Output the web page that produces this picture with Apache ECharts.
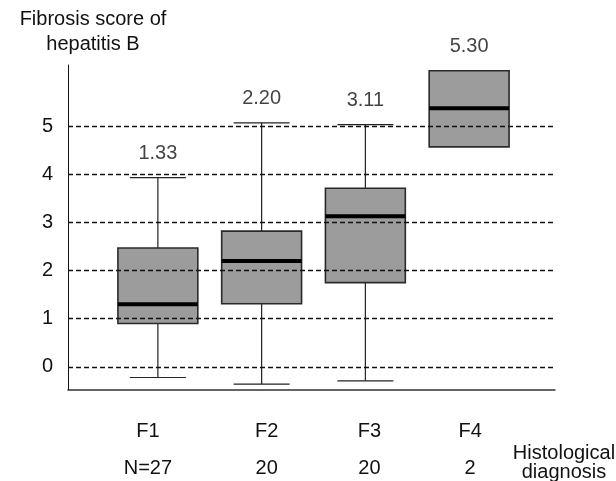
<!DOCTYPE html>
<html>
<head>
<meta charset="utf-8">
<script src="https://cdn.jsdelivr.net/npm/echarts@6/dist/echarts.min.js"></script>
<style>html,body{margin:0;padding:0;background:#fff}#c{width:616px;height:481px}</style>
</head>
<body>
<div id="c"></div>
<script>
var categories = ['F1', 'F2', 'F3', 'F4'];
var counts = ['N=27', '20', '20', '2'];
var medianLabels = ['1.33', '2.20', '3.11', '5.30'];
// [min, Q1, median, Q3, max]
var boxF1 = [-0.22, 0.90, 1.30, 2.47, 3.93];
var boxF2 = [-0.36, 1.31, 2.20, 2.82, 5.07];
var boxF3 = [-0.29, 1.75, 3.13, 3.71, 5.03];
var boxF4 = [4.57, 4.57, 5.37, 6.15, 6.15];
var yTicks = [0, 1, 2, 3, 4, 5];
var yMin = -0.48, yMax = 6.27;

var boxes = [boxF1, boxF2, boxF3, boxF4];
var FONT = 'Liberation Sans';
var FS = 20;

// horizontal nudges of category labels (px), layout only
var labelShift = [-10, 5, 4, 1];
var rich = {};
labelShift.forEach(function (s, i) {
  var pad = s >= 0 ? [0, 0, 0, 2 * s] : [0, -2 * s, 0, 0];
  rich['a' + i] = { fontFamily: FONT, fontSize: FS, color: '#111', lineHeight: 37, padding: pad };
  rich['b' + i] = { fontFamily: FONT, fontSize: FS, color: '#111', lineHeight: 37, padding: pad };
});

var chart = echarts.init(document.getElementById('c'));
chart.setOption({
  backgroundColor: '#fff',
  animation: false,
  textStyle: { fontFamily: FONT },
  title: [
    { text: 'Fibrosis score of\nhepatitis B', left: 88, top: 2, textAlign: 'center',
      textStyle: { fontFamily: FONT, fontSize: FS, fontWeight: 'normal', color: '#111', lineHeight: 25, align: 'center' } },
    { text: 'Histological\ndiagnosis', left: 559, top: 439, textAlign: 'center',
      textStyle: { fontFamily: FONT, fontSize: FS, fontWeight: 'normal', color: '#111', lineHeight: 19, align: 'center' } }
  ],
  grid: [
    { left: 68, right: 61, top: 65, bottom: 91 },
    { left: 106, right: 95, top: 65, bottom: 91 }
  ],
  xAxis: [
    { gridIndex: 0, type: 'value', min: 0, max: 1,
      axisLine: { show: true, onZero: false, lineStyle: { color: '#333', width: 1.5 } },
      axisTick: { show: false }, axisLabel: { show: false }, splitLine: { show: false } },
    { gridIndex: 1, type: 'category', data: categories,
      axisLine: { show: false }, axisTick: { show: false }, splitLine: { show: false },
      axisLabel: {
        margin: 23,
        formatter: function (v, i) { return '{a' + i + '|' + v + '}\n{b' + i + '|' + counts[i] + '}'; },
        rich: rich
      } }
  ],
  yAxis: [
    { gridIndex: 0, type: 'value', min: yMin, max: yMax,
      axisLine: { show: true, onZero: false, lineStyle: { color: '#111', width: 1 } },
      axisTick: { show: false }, splitLine: { show: false },
      axisLabel: { margin: 15, fontFamily: FONT, fontSize: FS, color: '#111',
        formatter: function (v) { return yTicks.indexOf(Math.round(v * 1000) / 1000) >= 0 ? String(v) : ''; } } },
    { gridIndex: 1, type: 'value', min: yMin, max: yMax, show: false,
      axisLine: { show: false }, axisTick: { show: false }, axisLabel: { show: false }, splitLine: { show: false } }
  ],
  series: [
    { type: 'line', xAxisIndex: 0, yAxisIndex: 0, data: [], silent: true,
      markLine: { silent: true, symbol: 'none', label: { show: false },
        lineStyle: { type: [5, 3], color: '#111', width: 1.3 },
        data: yTicks.map(function (t) { return { yAxis: t }; }) } },
    { type: 'custom', xAxisIndex: 1, yAxisIndex: 1,
      data: boxes.map(function (b, i) { return [i].concat(b); }),
      renderItem: function (params, api) {
        var x = api.value(0);
        var band = api.size([1, 0])[0];
        var bw = band * 0.77, cw = band * 0.54;
        var pMin = api.coord([x, api.value(1)]);
        var pQ1 = api.coord([x, api.value(2)]);
        var pMed = api.coord([x, api.value(3)]);
        var pQ3 = api.coord([x, api.value(4)]);
        var pMax = api.coord([x, api.value(5)]);
        var cx = pMed[0];
        var lineS = { stroke: '#222', lineWidth: 1.2 };
        var children = [];
        if (api.value(1) < api.value(2)) {
          children.push({ type: 'line', shape: { x1: cx, y1: pQ1[1], x2: cx, y2: pMin[1] }, style: lineS });
          children.push({ type: 'line', shape: { x1: cx - cw / 2, y1: pMin[1], x2: cx + cw / 2, y2: pMin[1] }, style: lineS });
        }
        if (api.value(5) > api.value(4)) {
          children.push({ type: 'line', shape: { x1: cx, y1: pQ3[1], x2: cx, y2: pMax[1] }, style: lineS });
          children.push({ type: 'line', shape: { x1: cx - cw / 2, y1: pMax[1], x2: cx + cw / 2, y2: pMax[1] }, style: lineS });
        }
        children.push({ type: 'rect', shape: { x: cx - bw / 2, y: pQ3[1], width: bw, height: pQ1[1] - pQ3[1] },
          style: { fill: '#9c9c9c', stroke: '#2a2a2a', lineWidth: 1.6 } });
        children.push({ type: 'line', shape: { x1: cx - bw / 2, y1: pMed[1], x2: cx + bw / 2, y2: pMed[1] },
          style: { stroke: '#000', lineWidth: 4 } });
        return { type: 'group', children: children };
      } },
    { type: 'scatter', xAxisIndex: 1, yAxisIndex: 1, symbolSize: 0, silent: true,
      data: boxes.map(function (b, i) { return [i, b[4]]; }),
      label: { show: true, position: 'top', distance: 14, fontFamily: FONT, fontSize: FS, color: '#111',
        formatter: function (p) { return medianLabels[p.dataIndex]; } } }
  ]
});
</script>
</body>
</html>
